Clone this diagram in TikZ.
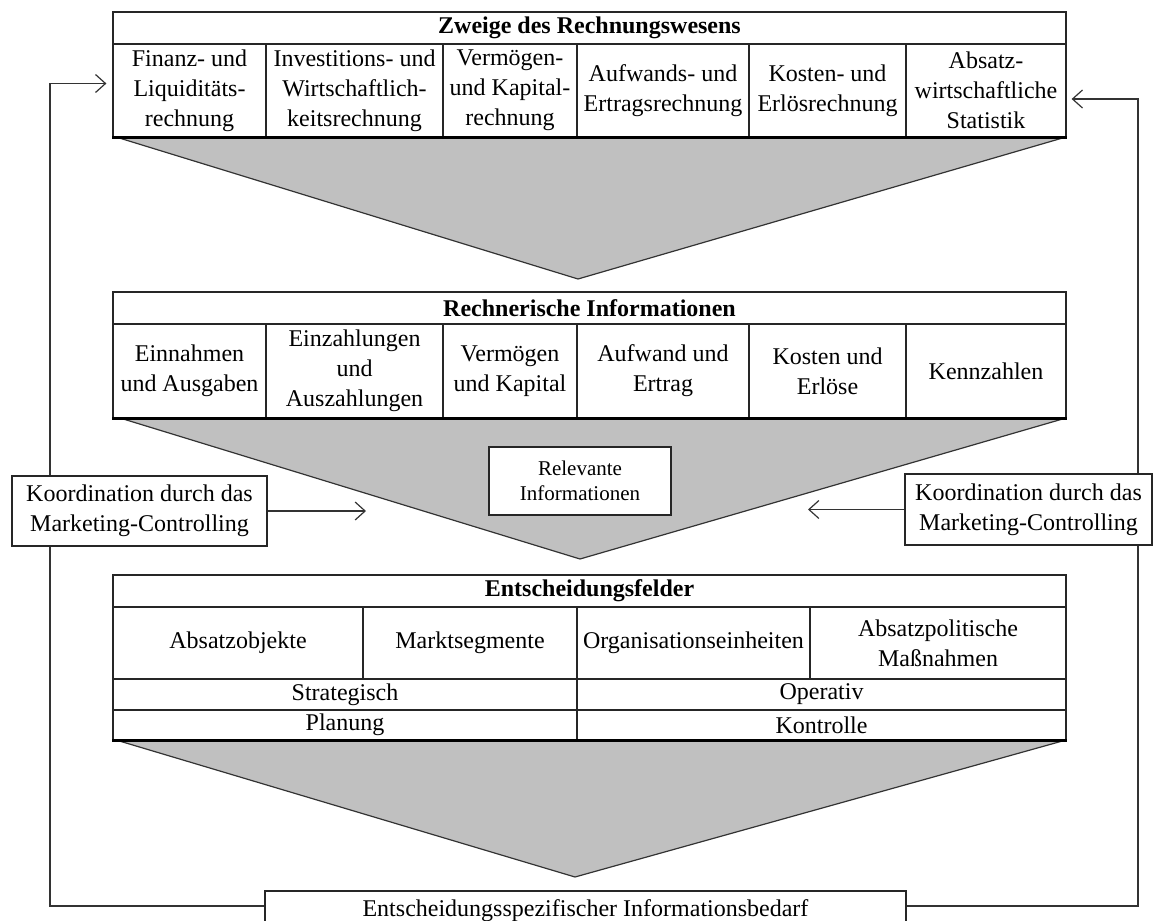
\documentclass[tikz,border=0pt]{standalone}
\usepackage{fontspec}
\setmainfont{Liberation Serif}
\usetikzlibrary{arrows.meta,calc}

\definecolor{funnelgray}{RGB}{192,192,192}
\tikzset{
  cell/.style={draw=black!85, line width=0.6pt, inner sep=0pt, align=center, font=\fontsize{12}{15}\selectfont},
  headcell/.style={cell, font=\fontsize{12}{15}\selectfont\bfseries},
  infobox/.style={draw=black!85, fill=white, line width=0.6pt, inner sep=0pt, align=center, font=\fontsize{12}{15}\selectfont},
  funnel/.style={fill=funnelgray, draw=black!80, line width=0.6pt},
  link/.style={draw=black!80, line width=0.6pt},
}

\begin{document}
\begin{tikzpicture}[x=0.5pt,y=-0.5pt,>={Straight Barb[length=5pt,width=9pt]}]
\useasboundingbox (0,0) rectangle (1155,920);

%table info
\def\tl{113}
\def\tr{1066}
\def\tw{(\tr-\tl)*0.5pt}

%funnels
\path[funnel] (116,137) -- (578,279) -- (\tr,137);
\path[funnel] (120,418) -- (580,559) -- (\tr,418);
\path[funnel] (116,740) -- (575,877) -- (\tr,740);

%top table
\node[headcell, minimum width={\tw}, minimum height=16pt] (zweige) at ({(\tl+\tr)/2},28) {Zweige des Rechnungswesens};
\foreach \l/\r/\txt [count=\i] in {113/266/{Finanz- und\\Liquiditäts-\\rechnung},
    266/443/{Investitions- und\\Wirtschaftlich-\\keitsrechnung},
    443/577/{Vermögen-\\und Kapital-\\rechnung},
    577/749/{Aufwands- und\\Ertragsrechnung},
    749/906/{Kosten- und\\Erlösrechnung},
    906/1066/{Absatz-\\wirtschaftliche\\Statistik}}{
    \node[cell, minimum width={(\r-\l)*0.5pt}, minimum height=46.5pt] (z\i) at ({(\l+\r)/2},90.5) {\txt};
}
\draw[line width=1.2pt] (z1.south west) -- (z6.south east);

%middle table
\node[headcell, minimum width={\tw}, minimum height=16pt] (rechn) at ({(\tl+\tr)/2},308) {Rechnerische Informationen};
\foreach \l/\r/\txt [count=\i] in {113/266/{Einnahmen\\und Ausgaben},
    266/443/{Einzahlungen\\und\\Auszahlungen},
    443/577/{Vermögen\\und Kapital},
    577/749/{Aufwand und\\Ertrag},
    749/906/{Kosten und\\Erlöse},
    906/1066/{Kennzahlen}}{
    \node[cell, minimum width={(\r-\l)*0.5pt}, minimum height=47pt] (r\i) at ({(\l+\r)/2},371) {\txt};
}
\draw[line width=1.2pt] (r1.south west) -- (r6.south east);

\node[infobox, minimum width=91pt, minimum height=34pt, font=\fontsize{10.5}{12.5}\selectfont] (relevant) at (580,481) {Relevante\\Informationen};

%bottom table
\node[headcell, minimum width={\tw}, minimum height=16pt] (felder) at ({(\tl+\tr)/2},591) {Entscheidungsfelder};
\foreach \l/\r/\txt [count=\i] in {113/363/{Absatzobjekte},
    363/577/{Marktsegmente},
    577/810/{Organisationseinheiten},
    810/1066/{Absatzpolitische\\Maßnahmen}}{
    \node[cell, minimum width={(\r-\l)*0.5pt}, minimum height=36pt] (e\i) at ({(\l+\r)/2},643) {\txt};
}
\foreach \l/\r/\txt/\y/\h [count=\i] in {113/577/Strategisch/694.5/15.5, 577/1066/Operativ/694.5/15.5,
    113/577/Planung/725/15, 577/1066/Kontrolle/725/15}{
    \node[cell, minimum width={(\r-\l)*0.5pt}, minimum height=\h pt] (s\i) at ({(\l+\r)/2},\y) {\txt};
}
\draw[line width=1.2pt] (s3.south west) -- (s4.south east);

%side boxes
\node[infobox, minimum width=127.5pt, minimum height=35pt] (koordL) at (139.5,511) {Koordination durch das\\Marketing-Controlling};
\node[infobox, minimum width=123.5pt, minimum height=35.5pt] (koordR) at (1028.5,509.5) {Koordination durch das\\Marketing-Controlling};
\node[infobox, minimum width=320.5pt, minimum height=20pt] (bedarf) at (585.5,911) {Entscheidungsspezifischer Informationsbedarf};

%feedback lines
\coordinate (L) at (50,0);
\coordinate (R) at (1138,0);
\coordinate (inL) at (366,511);
\coordinate (inR) at (808,509.5);
\draw[link] ([yshift=2.5pt]bedarf.west) -| (koordL.south -| L);
\draw[link] ([yshift=2.5pt]bedarf.east) -| (koordR.south -| R);
\draw[link,->,shorten >=3pt] (koordL.north -| L) |- ([yshift=3.5pt]z1.west);
\draw[link,->,shorten >=2.5pt] (koordR.north -| R) |- ([yshift=-4.25pt]z6.east);
\draw[link,->] (koordL.east) -- (inL);
\draw[link,->] (koordR.west) -- (inR);

\end{tikzpicture}
\end{document}
